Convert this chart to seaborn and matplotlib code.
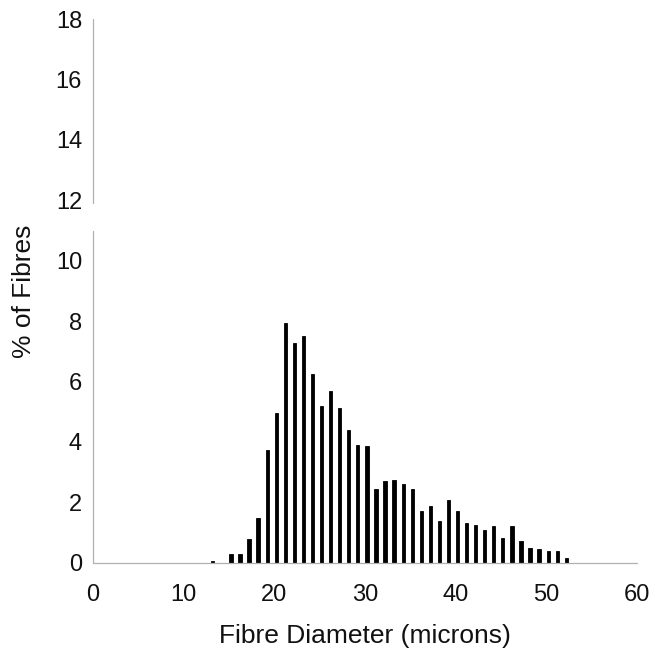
import matplotlib
matplotlib.use("Agg")
import matplotlib.pyplot as plt
import seaborn as sns
import pandas as pd

# fibre diameter histogram data
diameter = [13, 15, 16, 17, 18, 19, 20, 21, 22, 23, 24, 25, 26, 27, 28, 29, 30,
            31, 32, 33, 34, 35, 36, 37, 38, 39, 40, 41, 42, 43, 44, 45, 46, 47,
            48, 49, 50, 51, 52]
pct_fibres = [0.05, 0.3, 0.3, 0.79, 1.49, 3.72, 4.96, 7.95, 7.27, 7.5, 6.24, 5.19,
              5.68, 5.13, 4.39, 3.91, 3.86, 2.46, 2.72, 2.75, 2.61, 2.44, 1.73,
              1.88, 1.39, 2.09, 1.73, 1.31, 1.26, 1.09, 1.21, 0.82, 1.21, 0.72,
              0.5, 0.46, 0.38, 0.38, 0.16]
x_ticks = [0, 10, 20, 30, 40, 50, 60]
y_ticks = [0, 2, 4, 6, 8, 10, 12, 14, 16, 18]

df = pd.DataFrame({"diameter": diameter, "pct": pct_fibres})

sns.set_style("white")
plt.rcParams["font.family"] = ["Liberation Sans", "DejaVu Sans"]

fig = plt.figure(figsize=(6.56, 6.56), dpi=100)
ax = fig.add_axes([0.142, 0.142, 0.829, 0.829])

sns.barplot(data=df, x="diameter", y="pct", native_scale=True,
            color="black", saturation=1, edgecolor="black", linewidth=0.6, ax=ax)
# thin bars, left edge on each integer diameter
for p in ax.patches:
    centre = p.get_x() + p.get_width() / 2
    p.set_width(0.36)
    p.set_x(centre + 0.02)

ax.set_xlim(0, 60)
ax.set_ylim(0, 18)
ax.set_xticks(x_ticks)
ax.set_yticks(y_ticks)
ax.tick_params(axis="x", length=0, labelsize=17, colors="#111111", pad=15)
ax.tick_params(axis="y", length=0, labelsize=17, colors="#111111", pad=8)

for s in ax.spines.values():
    s.set_visible(False)

# broken y axis line and light x axis line
ax.plot([0, 0], [0, 11.0], color="#b0b0b0", lw=0.9, clip_on=False)
ax.plot([0, 0], [11.9, 18], color="#b0b0b0", lw=0.9, clip_on=False)
ax.plot([0, 60], [0, 0], color="#b0b0b0", lw=0.9, clip_on=False)

ax.set_xlabel("Fibre Diameter (microns)", fontsize=19, color="#111111")
ax.set_ylabel("% of Fibres", fontsize=19, color="#111111")
ax.xaxis.set_label_coords(0.5, -0.112)
ax.yaxis.set_label_coords(-0.105, 0.5)

fig.savefig("out.png", dpi=100)
